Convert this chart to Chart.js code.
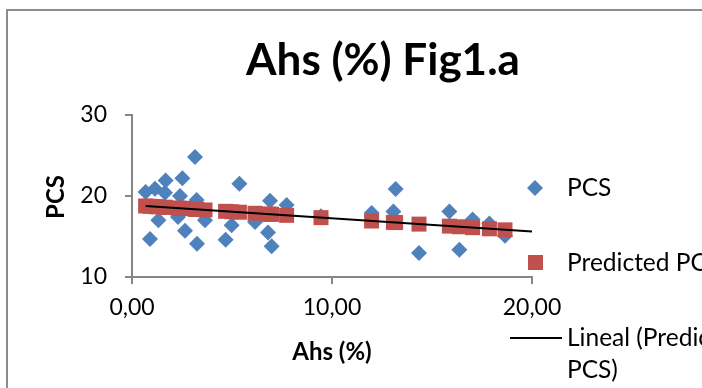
<!DOCTYPE html>
<html>
<head>
<meta charset="utf-8">
<script src="https://cdn.jsdelivr.net/npm/chart.js@4.4.1/dist/chart.umd.min.js"></script>
<style>
  html, body { margin: 0; padding: 0; background: #fff; overflow: hidden; }
  #wrap { width: 702px; height: 388px; }
</style>
</head>
<body>
<div id="wrap"><canvas id="chart" width="702" height="388"></canvas></div>
<script>
/* Ahs (%) vs PCS — scatter + predicted + linear trend */
const ahs = [0.68, 0.9, 1.15, 1.32, 1.65, 1.68, 2.3, 2.4, 2.52, 2.65, 3.15, 3.23, 3.25, 3.65,
  4.68, 4.98, 5.37, 6.15, 6.8, 6.9, 6.98, 7.73, 9.45, 11.98, 13.07, 13.18, 14.35, 15.87,
  16.37, 17.03, 17.87, 18.65];
const pcs = [20.5, 14.7, 20.9, 17.0, 20.4, 21.9, 17.4, 20.0, 22.2, 15.7, 24.8, 19.5, 14.1, 17.0,
  14.6, 16.4, 21.5, 16.8, 15.5, 19.4, 13.8, 18.9, 17.5, 17.9, 18.1, 20.85, 12.95, 18.1,
  13.35, 17.1, 16.6, 15.1];
const predicted = [18.77, 18.73, 18.69, 18.66, 18.61, 18.60, 18.50, 18.49, 18.47, 18.45, 18.36, 18.35, 18.35, 18.28,
  18.11, 18.06, 18.00, 17.87, 17.76, 17.75, 17.74, 17.61, 17.33, 16.91, 16.74, 16.72, 16.53, 16.28,
  16.20, 16.09, 15.95, 15.82];
const xTicks = [0, 10, 20];
const yTicks = [10, 20, 30];
const trendTo = 20;

const BLUE = '#4F81BD', RED = '#C0504D', AXIS = '#868686';
const FONT = 'Lato, "Open Sans", sans-serif';

// least squares on predicted values (Excel "Lineal" trendline)
const n = ahs.length;
const mx = ahs.reduce((a, b) => a + b, 0) / n;
const my = predicted.reduce((a, b) => a + b, 0) / n;
let sxy = 0, sxx = 0;
ahs.forEach((x, i) => { sxy += (x - mx) * (predicted[i] - my); sxx += (x - mx) ** 2; });
const slope = sxy / sxx, icpt = my - slope * mx;
const trendPts = [ahs[0], trendTo].map(x => ({ x, y: icpt + slope * x }));

const fmtX = v => v.toFixed(2).replace('.', ',');

function diamond(ctx, x, y, r) {
  ctx.beginPath();
  ctx.moveTo(x, y - r); ctx.lineTo(x + r, y); ctx.lineTo(x, y + r); ctx.lineTo(x - r, y);
  ctx.closePath(); ctx.fill();
}

const decor = {
  id: 'decor',
  beforeDraw(chart) {
    const ctx = chart.ctx;
    ctx.save();
    ctx.fillStyle = '#fff';
    ctx.fillRect(0, 0, chart.width, chart.height);
    ctx.strokeStyle = '#8c8c8c';
    ctx.lineWidth = 2;
    ctx.strokeRect(7, 10, 800, 500);
    ctx.restore();
  },
  afterDraw(chart) {
    const ctx = chart.ctx;
    ctx.save();
    ctx.fillStyle = '#000';
    ctx.textBaseline = 'middle';
    // title
    ctx.textAlign = 'center';
    ctx.font = 'bold 44px ' + FONT;
    ctx.fillText('Ahs (%) Fig1.a', 383, 61);
    // axis titles
    ctx.font = 'bold 24px ' + FONT;
    ctx.fillText('Ahs (%)', 332, 352);
    ctx.save();
    ctx.translate(56, 197);
    ctx.rotate(-Math.PI / 2);
    ctx.fillText('PCS', 0, 0);
    ctx.restore();
    // legend
    ctx.textAlign = 'left';
    ctx.font = '24.5px ' + FONT;
    ctx.fillStyle = BLUE;
    diamond(ctx, 535, 188, 8);
    ctx.fillStyle = RED;
    ctx.fillRect(528, 255, 15, 15);
    ctx.strokeStyle = '#000';
    ctx.lineWidth = 2;
    ctx.beginPath(); ctx.moveTo(510, 338); ctx.lineTo(562, 338); ctx.stroke();
    ctx.fillStyle = '#000';
    ctx.fillText('PCS', 567, 188);
    ctx.fillText('Predicted PCS', 567, 263);
    ctx.fillText('Lineal (Predicted', 567, 338);
    ctx.fillText('PCS)', 567, 370);
    ctx.restore();
  }
};

const tickGrid = { drawOnChartArea: false, drawTicks: true, tickLength: 7, color: AXIS, lineWidth: 2 };

new Chart(document.getElementById('chart'), {
  type: 'scatter',
  data: {
    datasets: [
      { label: 'Lineal (Predicted PCS)', type: 'line', data: trendPts, borderColor: '#000',
        borderWidth: 2, pointRadius: 0, fill: false, order: 0 },
      { label: 'Predicted PCS', data: ahs.map((x, i) => ({ x, y: predicted[i] })),
        pointStyle: 'rect', pointRadius: 10.6, backgroundColor: RED, borderWidth: 0, order: 1 },
      { label: 'PCS', data: ahs.map((x, i) => ({ x, y: pcs[i] })),
        pointStyle: 'rectRot', pointRadius: 8, backgroundColor: BLUE, borderWidth: 0, order: 2 }
    ]
  },
  options: {
    responsive: false,
    animation: false,
    layout: { padding: { left: 0, top: 115, right: 170, bottom: 0 } },
    plugins: { legend: { display: false }, tooltip: { enabled: false } },
    scales: {
      x: {
        type: 'linear', min: 0, max: 20,
        afterBuildTicks: s => { s.ticks = xTicks.map(v => ({ value: v })); },
        afterFit: s => { s.height = 388 - 277; },
        ticks: { callback: v => fmtX(v), color: '#000', font: { family: FONT, size: 23 }, padding: 10, maxRotation: 0 },
        grid: tickGrid,
        border: { color: AXIS, width: 2 }
      },
      y: {
        type: 'linear', min: 10, max: 30,
        afterBuildTicks: s => { s.ticks = yTicks.map(v => ({ value: v })); },
        afterFit: s => { s.width = 132; },
        ticks: { color: '#000', font: { family: FONT, size: 23 }, padding: 18 },
        grid: tickGrid,
        border: { color: AXIS, width: 2 }
      }
    }
  },
  plugins: [decor]
});
</script>
</body>
</html>
